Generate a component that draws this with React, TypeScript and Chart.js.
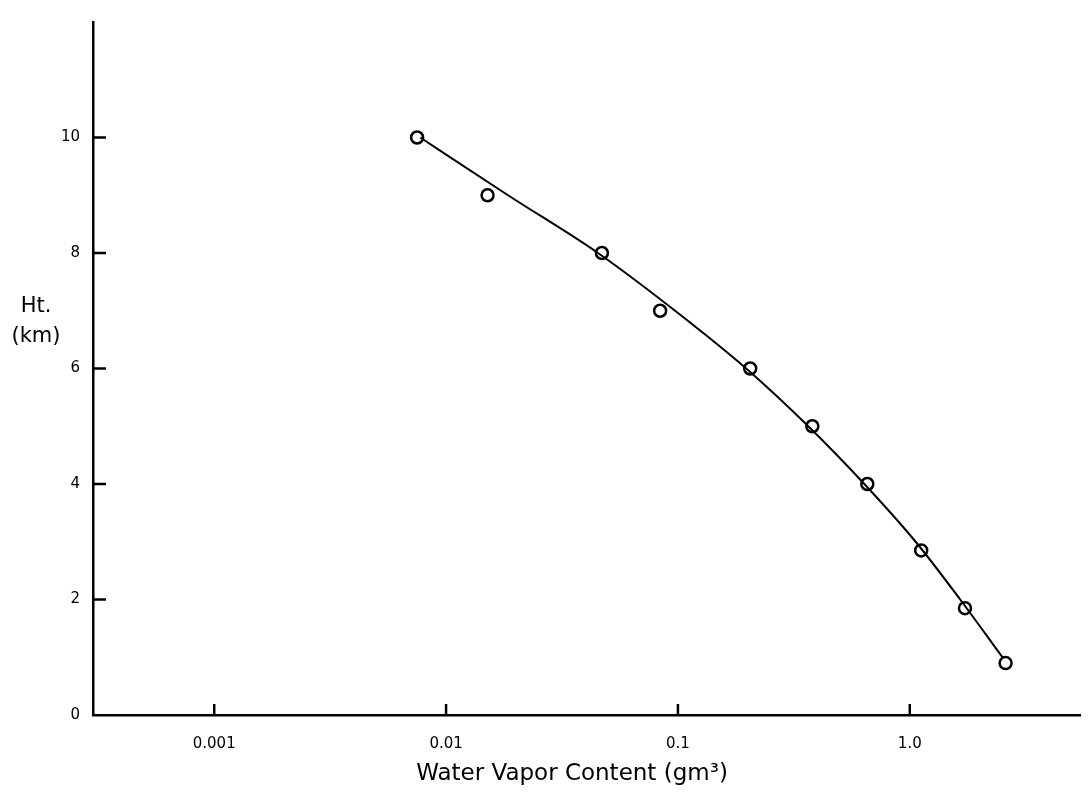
import React, { useEffect, useRef } from 'react';
import { Chart, registerables } from 'chart.js';

Chart.register(...registerables);

// Measured points
const heightKm = [10, 9, 8, 7, 6, 5, 4, 2.85, 1.85, 0.9];
const waterVapor = [0.0075, 0.0151, 0.047, 0.0838, 0.205, 0.38, 0.656, 1.12, 1.73, 2.59];

// Hand-drawn smooth curve
const curveHeightKm = [10, 9, 8, 7, 6, 5, 4, 3, 2, 1.0];
const curveWaterVapor = [0.00774, 0.0185, 0.0452, 0.0972, 0.197, 0.365, 0.637, 1.06, 1.65, 2.51];

const xTickValues = [0.001, 0.01, 0.1, 1];
const xTickLabels = ['0.001', '0.01', '0.1', '1.0'];
const yTickValues = [0, 2, 4, 6, 8, 10];
const yTickLabels = ['0', '2', '4', '6', '8', '10'];

const xTitle = 'Water Vapor Content (gm³)';
const yTitleLines = ['Ht.', '(km)'];

const FONT = '"DejaVu Sans", "Liberation Sans", sans-serif';

const inwardTicks = {
  id: 'inwardTicks',
  afterDraw(chart: any) {
    const { ctx, chartArea, scales } = chart;
    const xs = scales.x;
    const ys = scales.y;
    ctx.save();
    ctx.strokeStyle = '#000';
    ctx.lineWidth = 2.5;
    ctx.beginPath();
    xTickValues.forEach((v) => {
      const px = xs.getPixelForValue(v);
      ctx.moveTo(px, chartArea.bottom);
      ctx.lineTo(px, chartArea.bottom - 11);
    });
    yTickValues.forEach((v) => {
      if (v === 0) return;
      const py = ys.getPixelForValue(v);
      ctx.moveTo(chartArea.left, py);
      ctx.lineTo(chartArea.left + 13, py);
    });
    ctx.stroke();

    ctx.fillStyle = '#000';
    ctx.font = `23px ${FONT}`;
    ctx.textAlign = 'center';
    ctx.textBaseline = 'middle';
    ctx.fillText(xTitle, chartArea.left + 479, chartArea.bottom + 59);

    ctx.font = `21px ${FONT}`;
    const yMid = ys.getPixelForValue(7);
    ctx.fillText(yTitleLines[0], 36, yMid - 4);
    ctx.fillText(yTitleLines[1], 36, yMid + 26);
    ctx.restore();
  },
};

export default function App() {
  const canvasRef = useRef<HTMLCanvasElement | null>(null);

  useEffect(() => {
    const canvas = canvasRef.current;
    if (!canvas) return;
    const chart = new Chart(canvas, {
      type: 'scatter',
      data: {
        datasets: [
          {
            label: 'Fitted curve',
            data: curveWaterVapor.map((v, i) => ({ x: v, y: curveHeightKm[i] })),
            showLine: true,
            borderColor: '#000',
            borderWidth: 2,
            cubicInterpolationMode: 'monotone',
            pointRadius: 0,
            clip: false,
          } as any,
          {
            label: 'Measured',
            data: waterVapor.map((v, i) => ({ x: v, y: heightKm[i] })),
            showLine: false,
            pointRadius: 6,
            pointBorderWidth: 2.5,
            pointBackgroundColor: '#fff',
            pointBorderColor: '#000',
            clip: false,
          } as any,
        ],
      },
      options: {
        responsive: false,
        animation: false,
        layout: { padding: { top: 14, right: 0, left: 0, bottom: 0 } },
        plugins: {
          legend: { display: false },
          tooltip: { enabled: false },
        },
        scales: {
          x: {
            type: 'logarithmic',
            position: 'bottom',
            min: 0.000315,
            max: 5.45,
            afterBuildTicks: (scale: any) => {
              scale.ticks = xTickValues.map((v) => ({ value: v }));
            },
            afterFit: (scale: any) => {
              scale.height = 85;
            },
            ticks: {
              autoSkip: false,
              maxRotation: 0,
              padding: 20,
              color: '#000',
              font: { family: FONT, size: 15 },
              callback: (value: any) => {
                const i = xTickValues.indexOf(Number(value));
                return i >= 0 ? xTickLabels[i] : '';
              },
            },
            grid: { display: false, drawTicks: false },
            border: { display: true, color: '#000', width: 2.5 },
          },
          y: {
            type: 'linear',
            min: 0,
            max: 12,
            afterBuildTicks: (scale: any) => {
              scale.ticks = yTickValues.map((v) => ({ value: v }));
            },
            afterFit: (scale: any) => {
              scale.width = 93;
            },
            ticks: {
              autoSkip: false,
              padding: 13,
              color: '#000',
              font: { family: FONT, size: 15 },
              callback: (value: any) => {
                const i = yTickValues.indexOf(Number(value));
                return i >= 0 ? yTickLabels[i] : '';
              },
            },
            grid: { display: false, drawTicks: false },
            border: { display: true, color: '#000', width: 2.5 },
          },
        },
      },
      plugins: [inwardTicks],
    });
    return () => chart.destroy();
  }, []);

  return (
    <div style={{ position: 'fixed', left: 0, top: 0, width: 1089, height: 800, background: '#fff' }}>
      <canvas ref={canvasRef} width={1089} height={800} />
    </div>
  );
}
